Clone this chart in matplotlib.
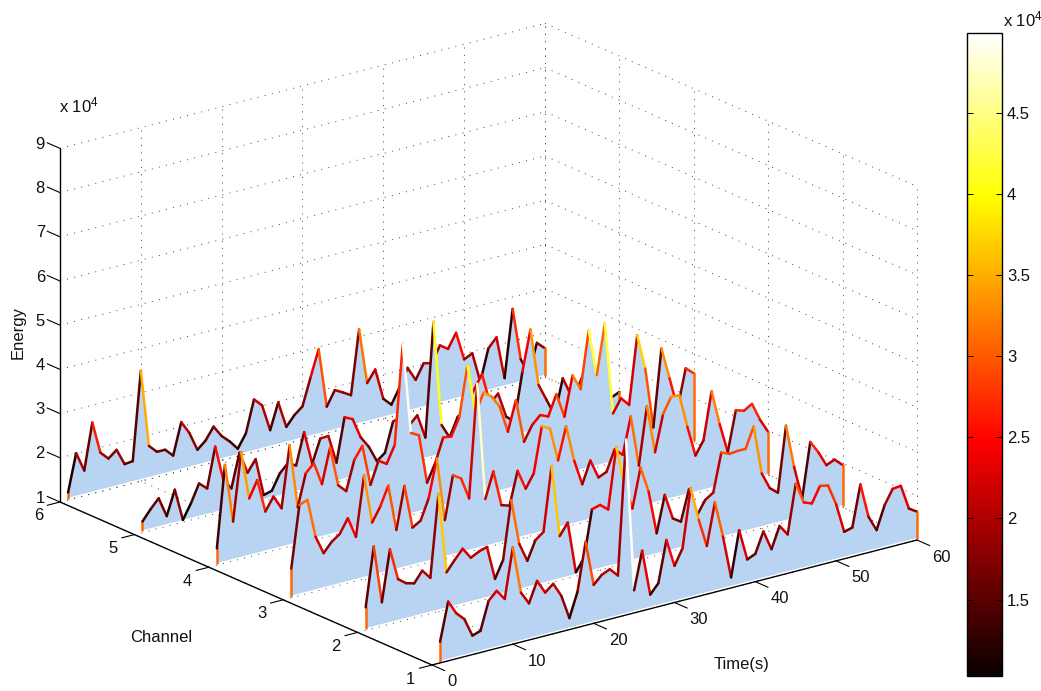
import numpy as np
import matplotlib
matplotlib.use("Agg")
import matplotlib.pyplot as plt
from matplotlib.collections import LineCollection, PolyCollection
from matplotlib.colors import Normalize
from matplotlib.cm import ScalarMappable

# Energy per channel, in units of 1e4, one value per second (t = 1..60)
energy_ch1 = [1.48,2.34,2.03,1.85,1.43,1.49,2.12,2.30,2.07,3.19,2.12,1.83,2.29,1.98,2.13,1.81,1.26,1.81,2.89,1.87,
              2.05,2.13,1.94,4.97,1.51,2.36,1.32,1.53,2.46,1.83,2.18,3.49,2.73,2.09,3.03,2.21,1.24,2.26,1.55,1.63,
              2.09,1.64,2.12,1.88,2.98,2.51,2.44,2.79,2.75,2.28,1.61,1.66,2.59,1.81,1.46,1.98,2.30,2.32,1.76,1.64]
energy_ch2 = [1.52,2.85,1.54,2.69,1.97,1.83,1.78,2.02,1.81,3.66,1.84,2.07,2.28,2.03,2.12,2.18,1.41,1.79,3.10,2.06,
              1.63,2.05,2.19,3.63,2.00,2.26,1.09,1.35,2.42,2.47,2.32,3.68,2.82,2.20,3.08,2.49,1.50,2.32,1.74,1.62,
              2.31,1.67,1.97,2.09,2.95,2.87,2.89,2.89,3.35,2.24,1.86,1.71,3.18,2.20,1.44,2.67,2.39,2.05,2.13,1.96]
energy_ch3 = [1.66,3.05,3.12,2.24,1.82,2.03,2.16,2.47,2.00,3.34,2.23,2.54,2.97,1.92,2.87,1.88,1.99,2.45,3.30,1.86,
              2.83,2.71,2.21,4.76,2.10,2.68,1.87,1.81,2.55,2.10,2.40,3.42,3.32,2.55,3.28,2.45,1.87,2.36,1.93,2.01,
              2.47,2.30,3.12,1.96,3.26,2.17,2.99,3.33,3.32,2.56,1.86,2.16,3.22,2.43,1.75,2.65,2.59,2.70,2.29,1.97]
energy_ch4 = [1.38,3.22,1.89,3.41,2.32,2.69,1.93,2.22,1.91,3.29,1.84,2.56,2.74,2.22,3.00,2.10,1.92,2.58,2.85,1.92,
              2.42,2.30,2.68,4.93,2.86,2.76,1.64,2.03,2.57,2.54,2.94,4.06,2.93,3.35,3.21,2.93,2.32,2.99,2.00,2.33,
              2.51,2.43,2.89,2.33,3.22,2.86,4.14,3.08,4.21,2.12,2.42,2.22,3.75,2.95,1.57,3.31,2.59,1.86,2.72,2.56]
energy_ch5 = [1.25,1.48,1.68,1.23,1.78,1.05,1.38,1.78,1.62,2.52,1.72,1.48,2.24,1.74,2.00,1.14,1.19,1.54,1.72,1.62,
              2.33,1.57,2.09,2.10,1.45,2.43,2.34,1.88,1.62,1.25,1.39,2.05,2.10,1.87,2.05,1.50,4.07,1.69,1.36,1.78,
              1.90,2.30,2.60,1.90,2.07,1.50,1.34,2.42,3.33,2.03,1.64,1.25,2.04,1.61,1.80,2.20,1.90,1.70,1.32,1.40]
energy_ch6 = [1.17,2.01,1.57,2.61,1.88,1.70,1.85,1.48,1.50,3.50,1.75,1.57,1.57,1.39,2.10,1.81,1.38,1.54,1.81,1.55,
              1.38,1.17,1.47,2.19,2.01,1.40,1.98,1.38,1.60,1.75,2.36,2.95,1.60,1.93,1.83,1.72,3.16,1.90,2.16,1.45,
              1.27,1.61,2.01,1.69,2.02,1.97,2.33,2.20,2.52,1.87,1.96,1.27,1.98,2.18,1.21,2.73,1.54,1.17,1.82,1.65]
channels = [1, 2, 3, 4, 5, 6]
seconds = list(range(1, 61))
time_ticks = [0, 10, 20, 30, 40, 50, 60]
energy_ticks = [1, 2, 3, 4, 5, 6, 7, 8, 9]
cbar_ticks = [1.5, 2, 2.5, 3, 3.5, 4, 4.5]
cbar_labels = ['1.5', '2', '2.5', '3', '3.5', '4', '4.5']

ENERGY_BASE = 1.05
C_MIN, C_MAX = 1.03, 4.99
EDGE_VALUE = 3.1
FILL = '#B9D3F2'
FONT = 'Liberation Sans'
FS = 12

plt.rcParams['font.family'] = FONT
plt.rcParams['mathtext.default'] = 'regular'


def P(t, c, z):
    """Orthographic projection of (time, channel, energy) on to figure pixels."""
    t, c, z = np.asarray(t, float), np.asarray(c, float), np.asarray(z, float)
    return np.column_stack([np.atleast_1d(432 + 8.083 * t - 74.4 * (c - 1) + 0 * z),
                            np.atleast_1d(665 - 2.083 * t - 32.6 * (c - 1) - 44.2 * (z - 1))])


fig = plt.figure(figsize=(10.41, 6.91), dpi=100)
ax = fig.add_axes([0, 0, 1, 1])
ax.set_xlim(0, 1041)
ax.set_ylim(691, 0)
ax.axis('off')


def seg(t0, c0, z0, t1, c1, z1, **kw):
    pts = np.vstack([P(t0, c0, z0), P(t1, c1, z1)])
    ax.plot(pts[:, 0], pts[:, 1], **kw)


grid = dict(color='#444444', lw=0.7, ls=(0, (1, 6.5)), zorder=1)
for t in time_ticks:
    seg(t, 1, 1, t, 6, 1, **grid)
    seg(t, 6, 1, t, 6, 9, **grid)
for c in channels:
    seg(0, c, 1, 60, c, 1, **grid)
    seg(60, c, 1, 60, c, 9, **grid)
for z in energy_ticks:
    seg(0, 6, z, 60, 6, z, **grid)
    seg(60, 6, z, 60, 1, z, **grid)

axis = dict(color='black', lw=1.0, zorder=30, solid_capstyle='butt')
seg(0, 1, 1, 60, 1, 1, **axis)
seg(0, 1, 1, 0, 6, 1, **axis)
seg(0, 6, 1, 0, 6, 9, **axis)

tick = dict(color='black', lw=0.8, zorder=30)
for t in time_ticks:
    seg(t, 1, 1, t, 0.83, 1, **tick)
    x, y = P(t, 1, 1)[0]
    ax.text(x + 15, y + 17, str(t), ha='left', va='center', fontsize=FS, color='#111111')
for c in channels:
    seg(0, c, 1, -1.55, c, 1, **tick)
    x, y = P(0, c, 1)[0]
    ax.text(x - 21.5, y + 14, str(c), ha='center', va='center', fontsize=FS, color='#111111')
for z in energy_ticks:
    seg(0, 6, z, 0, 6.17, z, **tick)
    x, y = P(0, 6, z)[0]
    ax.text(45, y - 4, str(z), ha='right', va='center', fontsize=FS, color='#111111')

norm = Normalize(C_MIN, C_MAX)
all_energy = [energy_ch1, energy_ch2, energy_ch3, energy_ch4, energy_ch5, energy_ch6]
for c, energy in sorted(zip(channels, all_energy), reverse=True):
    z = np.asarray(energy)
    t = np.asarray(seconds, float)
    line = P(t, c, z)
    base0 = P(t[0], c, ENERGY_BASE)
    base1 = P(t[-1], c, ENERGY_BASE)
    outline = np.vstack([base0, line, base1])
    order = 2 * (7 - c) + 2
    ax.add_collection(PolyCollection([outline], facecolors=FILL, edgecolors='none', zorder=order))
    segments = np.stack([outline[:-1], outline[1:]], axis=1)
    values = np.concatenate([[EDGE_VALUE], z[:-1], [EDGE_VALUE]])
    ax.add_collection(LineCollection(segments, array=values, cmap='hot', norm=norm,
                                     linewidths=1.8, capstyle='round', zorder=order + 1))

ax.text(18, 332, 'Energy', rotation=90, ha='center', va='center', fontsize=FS, color='#111111')
ax.text(161, 638, 'Channel', ha='center', va='center', fontsize=FS, color='#111111')
ax.text(742, 665, 'Time(s)', ha='center', va='center', fontsize=FS, color='#111111')
ax.text(59, 105, r'x 10$^{4}$', ha='left', va='center', fontsize=FS, color='#111111')

cax = fig.add_axes([967 / 1041, 1 - 676 / 691, 35 / 1041, 643 / 691])
cb = fig.colorbar(ScalarMappable(norm=norm, cmap='hot'), cax=cax)
cb.set_ticks(cbar_ticks)
cb.set_ticklabels(cbar_labels)
cb.ax.tick_params(direction='in', left=True, right=True, length=4, width=0.7,
                  labelsize=FS, pad=3.5, labelcolor='#111111')
cb.outline.set_linewidth(1.0)
ax.text(1003, 19, r'x 10$^{4}$', ha='left', va='center', fontsize=FS, color='#111111')

fig.savefig('out.png', dpi=100)
